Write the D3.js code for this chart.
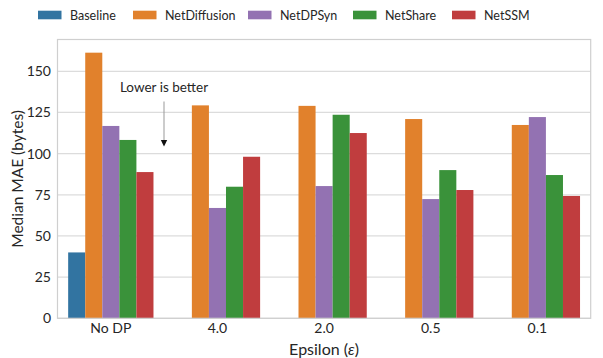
<!DOCTYPE html>
<html><head><meta charset="utf-8">
<script src="https://cdn.jsdelivr.net/npm/d3@7"></script>
<style>body{margin:0;background:#fff}svg{display:block}text{font-family:Lato,"Open Sans",sans-serif;fill:#262626}</style>
</head><body><svg id="c" width="603" height="358"></svg>
<script>
const categories = ["No DP","4.0","2.0","0.5","0.1"];
const seriesNames = ["Baseline","NetDiffusion","NetDPSyn","NetShare","NetSSM"];
const baseline    = [40, null, null, null, null];
const netDiffusion= [161.3, 129.3, 129.0, 121.0, 117.4];
const netDPSyn    = [116.8, 67.0, 80.3, 72.4, 122.2];
const netShare    = [108.3, 79.9, 123.6, 90.0, 87.0];
const netSSM      = [88.8, 98.1, 112.5, 77.9, 74.3];
const yTicks = [0,25,50,75,100,125,150];
const colors = ["#3274a1","#e1812c","#9372b2","#3a923a","#c03d3e"];
const values = [baseline, netDiffusion, netDPSyn, netShare, netSSM];

const svg = d3.select("#c");
const L=57.5, R=590.7, T=39.5, B=318.3;
const x = d3.scaleBand().domain(categories).range([L,R]).paddingInner(0.2).paddingOuter(0.1);
const xs = d3.scaleBand().domain(seriesNames).range([0,x.bandwidth()]);
const y = d3.scaleLinear().domain([0,169.3]).range([B,T]);

// grid
svg.append("g").selectAll("line").data(yTicks).join("line")
  .attr("x1",L).attr("x2",R).attr("y1",d=>y(d)).attr("y2",d=>y(d))
  .attr("stroke","#dcdcdc").attr("stroke-width",1.2);

// bars
const rows=[];
categories.forEach((c,i)=>seriesNames.forEach((s,j)=>{ if(values[j][i]!=null) rows.push({c,s,v:values[j][i],col:colors[j]}); }));
svg.append("g").selectAll("rect").data(rows).join("rect")
  .attr("x",d=>x(d.c)+xs(d.s)).attr("width",xs.bandwidth())
  .attr("y",d=>y(d.v)).attr("height",d=>B-y(d.v)).attr("fill",d=>d.col);

// spines
svg.append("rect").attr("x",L).attr("y",T).attr("width",R-L).attr("height",B-T)
  .attr("fill","none").attr("stroke","#cfcfcf").attr("stroke-width",1.2);

// axes labels
const ya = svg.append("g").attr("transform",`translate(${L},0)`).call(d3.axisLeft(y).tickValues(yTicks).tickSize(0).tickPadding(6.5));
ya.select(".domain").remove();
ya.selectAll("text").style("font-size","14px").style("font-family","Lato,sans-serif").attr("fill","#2a2a2a");

const xa = svg.append("g").attr("transform",`translate(0,${B})`).call(d3.axisBottom(x).tickSize(0).tickPadding(5));
xa.select(".domain").remove();
xa.selectAll("text").style("font-size","14px").style("font-family","Lato,sans-serif").attr("fill","#2a2a2a");

svg.append("text").attr("x",(L+R)/2).attr("y",355).attr("text-anchor","middle").style("font-size","16px")
  .html('Epsilon (<tspan font-style="italic">ε</tspan>)');
svg.append("text").attr("transform",`translate(23,${(T+B)/2}) rotate(-90)`).attr("text-anchor","middle").style("font-size","15.5px")
  .text("Median MAE (bytes)");

// annotation
svg.append("text").attr("x",164).attr("y",92).attr("text-anchor","middle").style("font-size","13.5px").attr("fill","#333").text("Lower is better");
svg.append("line").attr("x1",164).attr("x2",164).attr("y1",101.5).attr("y2",141).attr("stroke","#999").attr("stroke-width",1);
svg.append("path").attr("d","M160.8,140 L167.2,140 L164,146.5 Z").attr("fill","#111");

// legend
const lx=[38,133,248,353,452];
const lg = svg.append("g");
seriesNames.forEach((s,i)=>{
  lg.append("rect").attr("x",lx[i]).attr("y",10.7).attr("width",23.5).attr("height",8.6).attr("fill",colors[i]);
  lg.append("text").attr("x",lx[i]+32).attr("y",19.5).style("font-size","12.5px").attr("fill","#333").text(s);
});
</script></body></html>
